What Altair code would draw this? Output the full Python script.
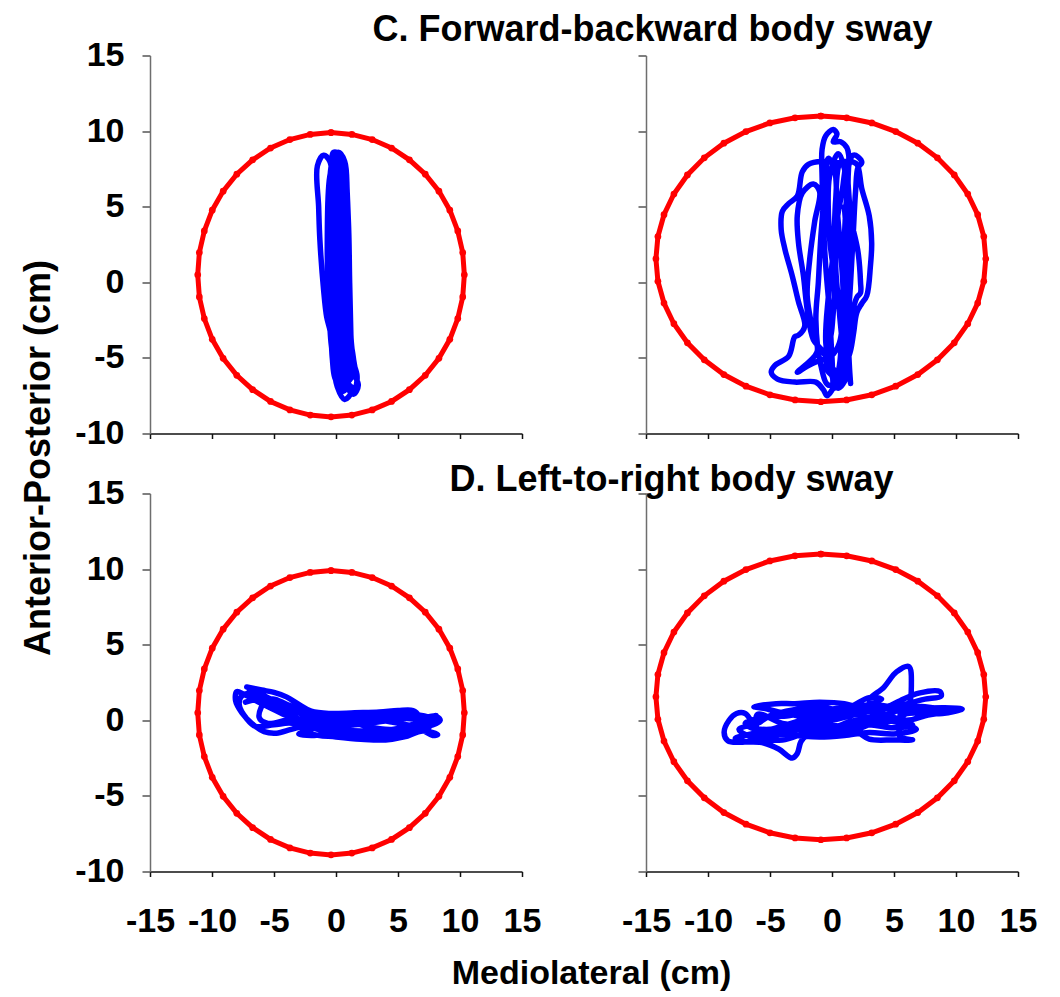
import altair as alt
import pandas as pd

FONT = "Liberation Sans"

x_ticks = [-15, -10, -5, 0, 5, 10, 15]
y_ticks = [-10, -5, 0, 5, 10, 15]

title_c = "C. Forward-backward body sway"
title_d = "D. Left-to-right body sway"
x_title = "Mediolateral (cm)"
y_title = "Anterior-Posterior (cm)"

# confidence ellipse, left column
ellipse_left = [
    (-0.40, 9.90), (1.28, 9.78), (2.92, 9.44), (4.48, 8.88), (5.92, 8.10), (7.20, 7.15),
    (8.30, 6.03), (9.18, 4.77), (9.82, 3.40), (10.22, 1.97), (10.35, 0.50),
    (10.22, -0.97), (9.82, -2.40), (9.18, -3.77), (8.30, -5.03), (7.20, -6.15),
    (5.92, -7.10), (4.48, -7.88), (2.92, -8.44), (1.28, -8.78), (-0.40, -8.90),
    (-2.08, -8.78), (-3.72, -8.44), (-5.28, -7.88), (-6.72, -7.10), (-8.00, -6.15),
    (-9.10, -5.03), (-9.98, -3.77), (-10.62, -2.40), (-11.02, -0.97), (-11.15, 0.50),
    (-11.02, 1.97), (-10.62, 3.40), (-9.98, 4.77), (-9.10, 6.03), (-8.00, 7.15),
    (-6.72, 8.10), (-5.28, 8.88), (-3.72, 9.44), (-2.08, 9.78), (-0.40, 9.90),
]

# confidence ellipse, right column
ellipse_right = [
    (-0.90, 11.00), (1.18, 10.88), (3.21, 10.54), (5.14, 9.97), (6.92, 9.20), (8.50, 8.23),
    (9.86, 7.10), (10.95, 5.84), (11.75, 4.47), (12.24, 3.03), (12.40, 1.55),
    (12.24, 0.07), (11.75, -1.37), (10.95, -2.74), (9.86, -4.00), (8.50, -5.13),
    (6.92, -6.10), (5.14, -6.87), (3.21, -7.44), (1.18, -7.78), (-0.90, -7.90),
    (-2.98, -7.78), (-5.01, -7.44), (-6.94, -6.87), (-8.72, -6.10), (-10.30, -5.13),
    (-11.66, -4.00), (-12.75, -2.74), (-13.55, -1.37), (-14.04, 0.07), (-14.20, 1.55),
    (-14.04, 3.03), (-13.55, 4.47), (-12.75, 5.84), (-11.66, 7.10), (-10.30, 8.23),
    (-8.72, 9.20), (-6.94, 9.97), (-5.01, 10.54), (-2.98, 10.88), (-0.90, 11.00),
]

# C, left: sway path
trace_c_left = [
    (0.2, 8.0), (0.1, 4.0), (0.2, 0.0), (0.3, -4.0), (0.8, -6.5), (1.2, -7.3), (0.7, -7.75),
    (0.1, -6.9), (-0.3, -4.5), (-0.5, -1.0), (-0.4, 3.0), (-0.3, 7.0), (-0.2, 8.6), (0.4, 8.4),
    (0.7, 5.0), (0.9, 1.0), (0.8, -3.0), (1.1, -5.5), (1.8, -6.8), (1.4, -7.4), (0.5, -6.2),
    (0.2, -3.0), (0.0, 1.0), (-0.2, 5.0), (-0.5, 8.0), (-1.0, 8.4), (-1.5, 7.7), (-1.4, 5.0),
    (-1.3, 2.8), (-1.0, -0.5), (-0.75, -2.3), (-0.45, -3.3), (-0.3, -5.0), (-0.1, -6.3),
    (0.4, -7.0), (1.0, -6.0), (0.9, -2.0), (1.0, 2.0), (0.9, 6.0), (0.7, 8.0), (0.2, 8.6),
    (-0.3, 8.0), (-0.6, 4.0), (-0.6, 0.0), (-0.4, -4.0), (0.0, -6.0), (0.5, -6.8), (1.3, -6.2),
    (1.2, -3.5), (1.1, 0.0), (1.0, 4.0), (0.7, 7.5), (0.3, 8.3), (0.0, 6.0), (0.1, 2.0),
    (0.3, -2.0), (0.5, -5.0), (0.9, -7.0), (1.6, -6.9), (1.4, -5.0), (0.6, -1.0), (0.5, 3.0),
    (0.4, 7.0), (0.1, 7.9), (-0.2, 6.0), (-0.3, 2.0), (-0.1, -2.0), (0.3, -5.5), (0.7, -6.0),
    (0.6, -3.0), (0.4, 1.0), (0.3, 5.0), (0.2, 7.5), (0.0, 8.2), (-0.4, 5.5), (-0.5, 2.0),
    (-0.3, -2.0), (0.1, -5.5), (0.6, -7.2), (1.0, -6.6), (0.8, -4.5), (0.6, -1.0), (0.7, 2.5),
    (0.6, 6.0), (0.4, 8.2), (0.0, 7.0), (-0.1, 3.5), (0.0, -0.5), (0.2, -4.0), (0.6, -6.3),
    (1.5, -7.0), (1.7, -6.2), (1.2, -4.8), (0.9, -2.5), (0.8, 0.5), (0.7, 4.0), (0.5, 7.0),
    (0.0, 8.4), (-0.5, 7.0), (-0.7, 3.0), (-0.6, -1.0), (-0.3, -3.5), (0.0, -5.5), (0.3, -6.5),
    (0.8, -5.8), (0.5, -3.0), (0.3, 0.0), (0.2, 3.5), (0.1, 6.5), (0.3, 8.0),
]

# C, right: sway path
trace_c_right = [
    (1.5, -6.7), (1.4, -5.5), (1.3, -3.0), (1.5, 0.0), (1.7, 3.0), (1.9, 6.0), (2.1, 7.6),
    (2.4, 7.9), (2.1, 8.3), (1.7, 8.4), (1.4, 7.9), (1.2, 6.0), (1.0, 3.0), (0.9, 0.0),
    (0.8, -3.0), (0.6, -5.5), (0.2, -6.8), (-0.4, -7.5), (-0.7, -7.1), (-1.3, -6.6),
    (-3.0, -6.6), (-4.4, -6.4), (-4.9, -5.95), (-4.6, -5.5), (-3.5, -4.9), (-3.0, -3.6),
    (-2.7, -3.5), (-2.2, -2.9), (-2.7, -1.3), (-3.2, 0.4), (-3.8, 2.2), (-4.1, 3.5),
    (-4.0, 4.7), (-3.5, 5.2), (-2.8, 5.7), (-2.4, 7.3), (-1.9, 7.8), (-0.8, 8.0), (0.5, 7.9),
    (1.4, 8.0), (2.0, 7.8), (2.4, 6.2), (3.0, 4.4), (3.2, 2.6), (3.1, 1.1), (2.8, -0.9),
    (2.4, -1.4), (2.0, -2.0), (1.75, -3.3), (1.5, -4.5), (1.1, -5.5), (0.7, -6.3), (0.2, -7.0),
    (0.0, -5.0), (-0.2, -2.0), (-0.5, 1.0), (-0.7, 4.0), (-0.8, 7.0), (-0.8, 8.8), (-0.5, 9.7),
    (0.1, 10.1), (0.4, 9.8), (0.1, 9.3), (0.7, 9.3), (1.2, 8.9), (1.35, 8.4), (1.3, 6.5),
    (1.6, 4.0), (2.1, 2.0), (2.3, 0.0), (2.3, -0.7), (2.0, -1.0), (1.5, -2.5), (1.0, -4.5),
    (0.5, -6.0), (-0.1, -5.5), (-0.8, -4.5), (-1.5, -3.8), (-2.0, -1.8), (-2.3, 0.4),
    (-2.7, 2.6), (-2.8, 4.4), (-2.4, 5.9), (-1.5, 6.5), (-1.0, 6.0), (-1.4, 4.0), (-1.8, 1.5),
    (-2.0, -0.9), (-1.6, -3.0), (-1.2, -4.6), (-2.8, -5.95), (-1.9, -5.5), (-1.1, -5.2),
    (-0.1, -4.9), (0.6, -4.0), (0.9, -1.0), (0.7, 2.0), (0.4, 5.0), (0.2, 7.5), (-0.3, 8.2),
    (-0.6, 6.0), (-0.9, 3.0), (-1.1, 0.0), (-1.3, -2.5), (-0.9, -5.5), (-0.3, -6.8),
    (0.5, -6.5), (0.9, -6.4), (1.1, -4.0), (1.3, -1.0), (1.5, 2.0), (1.4, 5.0), (1.0, 7.5),
    (0.5, 8.5), (-0.2, 7.0), (-0.2, 3.0), (0.2, 0.0), (0.0, -3.0), (-0.4, -5.8), (0.3, -6.2),
    (0.8, -5.0), (0.6, -2.0), (0.3, 1.0), (0.4, 4.0), (0.9, 6.5), (1.0, 8.0), (0.6, 7.8),
    (0.3, 5.5), (0.1, 2.0), (-0.3, -1.0), (-0.5, -4.0), (0.0, -6.2), (0.5, -7.0), (1.2, -6.2),
    (1.3, -4.0), (1.0, -1.5), (1.2, 2.0), (1.0, 5.0),
]

# D, left: sway path
trace_d_left = [
    (-7.2, 2.2), (-6.0, 2.0), (-5.0, 1.85), (-4.0, 1.55), (-3.0, 1.05), (-2.0, 0.6),
    (-0.5, 0.45), (1.5, 0.5), (3.5, 0.55), (5.0, 0.65), (6.2, 0.65), (6.6, 0.35), (5.5, 0.1),
    (3.5, -0.1), (1.5, -0.3), (-0.5, -0.4), (-2.5, -0.2), (-4.5, 0.5), (-6.0, 1.1),
    (-7.4, 1.7), (-8.0, 1.9), (-8.1, 1.3), (-7.6, 0.5), (-6.8, -0.2), (-5.8, -0.75),
    (-4.8, -0.85), (-3.6, -0.6), (-2.5, -0.4), (-1.0, -0.7), (1.0, -1.0), (3.0, -1.1),
    (5.0, -1.0), (6.5, -0.6), (7.5, -0.3), (8.2, 0.2), (8.4, 0.0), (7.8, -0.3), (6.8, -0.4),
    (5.0, -0.2), (3.0, 0.1), (1.0, 0.3), (-1.0, 0.2), (-3.0, 0.5), (-5.0, 1.3), (-6.5, 1.8),
    (-7.6, 1.6), (-7.8, 1.0), (-7.2, 0.1), (-6.5, -0.4), (-5.0, -0.3), (-3.5, -0.2),
    (-2.0, -0.9), (0.0, -1.1), (2.0, -1.25), (4.0, -1.3), (5.5, -1.1), (7.0, -0.7),
    (8.2, -0.95), (7.8, -1.0), (6.8, -0.6), (5.5, -0.5), (4.0, -0.7), (2.0, -0.7), (0.0, -0.6),
    (-2.0, -0.3), (-3.5, 0.3), (-5.0, 0.9), (-6.5, 1.5), (-7.0, 2.0), (-6.0, 1.6), (-4.5, 1.2),
    (-3.0, 0.6), (-1.5, 0.0), (0.5, -0.2), (2.5, 0.2), (4.5, 0.3), (6.0, 0.1), (7.5, 0.0),
    (8.1, 0.3), (7.0, 0.2), (5.0, 0.4), (3.0, 0.3), (1.0, -0.1), (-1.0, -0.2), (-2.5, 0.1),
    (-4.0, 0.0), (-5.5, -0.2), (-6.2, 0.2), (-5.5, 1.4), (-3.5, 0.9), (-1.5, 0.3), (0.5, 0.1),
    (2.5, -0.4), (4.5, -0.6), (6.5, -0.2), (7.8, 0.1), (6.0, 0.4), (4.0, 0.0), (2.0, -0.2),
    (0.0, 0.0), (-2.0, -0.6), (-3.0, -0.9), (-2.0, -1.0), (0.0, -0.9), (2.0, -1.0),
    (4.5, -0.9), (6.0, -0.8), (7.5, -0.5), (6.0, 0.3), (4.0, 0.5), (2.0, 0.4), (0.0, 0.4),
    (-2.0, 0.2), (-4.0, 0.9), (-6.0, 1.4), (-7.3, 1.2),
]

# D, right: sway path
trace_d_right = [
    (-6.5, -0.1), (-7.0, 0.45), (-7.7, 0.45), (-8.3, 0.0), (-8.7, -0.8), (-8.4, -1.35),
    (-7.5, -1.45), (-6.0, -1.3), (-4.5, -1.0), (-3.0, -0.6), (-1.0, -0.2), (1.0, 0.2),
    (2.8, 0.6), (4.5, 0.9), (5.5, 1.3), (7.0, 1.8), (8.7, 1.9), (8.8, 1.6), (7.5, 1.4),
    (6.5, 1.2), (5.0, 0.9), (3.0, 1.3), (4.2, 2.2), (5.2, 3.2), (6.2, 3.55), (6.4, 2.3),
    (6.2, 1.0), (5.5, 0.4), (7.0, 0.75), (10.5, 0.75), (8.9, 0.45), (7.0, 0.5), (5.5, 0.3),
    (5.4, -0.55), (5.5, -1.1), (6.5, -1.3), (5.0, -1.3), (3.0, -1.25), (2.3, -0.9),
    (1.5, -0.5), (-0.5, -0.7), (-2.0, -1.0), (-2.5, -1.4), (-2.8, -2.2), (-3.2, -2.5),
    (-4.3, -1.9), (-5.5, -1.5), (-7.0, -1.4), (-7.8, -1.2), (-6.5, -0.9), (-4.5, -0.5),
    (-2.5, 0.0), (-0.5, 0.5), (1.5, 0.9), (3.0, 1.5), (4.0, 1.4), (2.0, 0.8), (0.0, 0.3),
    (-2.0, 0.2), (-4.0, 0.5), (-5.5, 0.8), (-6.3, 0.9), (-4.5, 1.1), (-3.0, 1.1), (-1.0, 1.2),
    (1.0, 1.1), (3.0, 0.6), (5.0, 0.1), (6.5, -0.3), (5.0, -0.5), (3.0, -0.3), (1.0, -0.4),
    (-1.0, -0.3), (-3.0, -0.4), (-5.0, -0.6), (-6.5, -0.5), (-7.0, -0.2), (-5.5, 0.2),
    (-3.5, 0.3), (-1.5, 0.6), (0.5, 0.8), (2.5, 1.0), (4.0, 0.5), (6.0, 0.0), (7.5, 0.3),
    (9.0, 0.6), (7.5, 0.9), (5.5, 0.7), (4.0, 0.1), (2.0, -0.6), (0.0, -0.9), (-2.0, -0.5),
    (-4.0, -0.9), (-6.0, -0.6), (-6.0, 0.4), (-4.0, -0.2), (-2.0, -0.3), (0.0, 0.0),
    (2.0, 0.5), (4.0, 0.8), (6.0, 0.5), (4.0, -0.2), (2.0, 0.0), (0.0, -0.5), (-2.0, -0.8),
    (-4.0, -1.3), (-6.5, -1.1), (-7.5, -0.6), (-6.0, -0.2), (-5.0, 0.3), (-3.0, 0.7),
    (-1.0, 0.9), (1.0, 0.6), (3.0, 0.9), (5.0, 0.6), (3.5, 0.2), (1.5, 0.4), (-0.5, 0.2),
    (-2.5, -0.2), (-4.5, -0.7), (-6.0, -0.9), (-5.0, -0.9), (-3.0, -1.0), (-1.0, -1.1),
    (1.0, -1.0), (3.0, -0.8), (5.0, -0.9), (6.8, -0.6), (5.5, -0.2), (3.5, 0.2),
]

W, H = 372, 378


def frame(points):
    return pd.DataFrame({
        "x": [p[0] for p in points],
        "y": [p[1] for p in points],
        "i": list(range(len(points))),
    })


def panel(trace, ellipse, x_labels, y_labels, x_axis_title=False, y_axis_title=False,
          heading=None, heading_pos=(0, 0)):
    x_axis = alt.Axis(
        values=x_ticks, labels=x_labels, grid=False, ticks=True, tickSize=5,
        tickColor="#111111", tickWidth=1.5, domainColor="#111111", domainWidth=1.5,
        labelFont=FONT, labelFontSize=34, labelFontWeight="bold", labelColor="#000000",
        labelPadding=28, labelFlush=False, labelOverlap=False,
        labelExpr="toString(datum.value)",
        title=x_title if x_axis_title else None,
        **({"titleFont": FONT, "titleFontSize": 34, "titleFontWeight": "bold",
            "titleColor": "#000000", "titleX": 441, "titleY": 112,
            "titleAlign": "center", "titleBaseline": "alphabetic"} if x_axis_title else {}),
    )
    y_axis = alt.Axis(
        values=y_ticks, labels=y_labels, grid=False, ticks=True, tickSize=8,
        tickColor="#555555", tickWidth=1.5, domainColor="#6e6e6e", domainWidth=1.5,
        labelFont=FONT, labelFontSize=34, labelFontWeight="bold", labelColor="#000000",
        labelPadding=18, labelFlush=False, labelOverlap=False,
        labelExpr="toString(datum.value)",
        title=y_title if y_axis_title else None,
        **({"titleFont": FONT, "titleFontSize": 36, "titleFontWeight": "bold",
            "titleColor": "#000000", "titleX": -101, "titleY": 402, "titleAngle": 270,
            "titleAlign": "center", "titleBaseline": "alphabetic"} if y_axis_title else {}),
    )
    xs = alt.X("x:Q", scale=alt.Scale(domain=[-15, 15], nice=False, zero=False), axis=x_axis)
    ys = alt.Y("y:Q", scale=alt.Scale(domain=[-10, 15], nice=False, zero=False), axis=y_axis)

    ell = alt.Chart(frame(ellipse)).mark_line(
        color="#ff0000", strokeWidth=5,
        point=alt.OverlayMarkDef(color="#ff0000", filled=True, size=45),
    ).encode(x=xs, y=ys, order="i:Q")

    path = alt.Chart(frame(trace)).mark_line(
        color="#0000ff", strokeWidth=5.5, interpolate="catmull-rom", strokeJoin="round",
        strokeCap="round",
    ).encode(x=xs, y=ys, order="i:Q")

    layers = [ell, path]
    if heading:
        txt = alt.Chart(pd.DataFrame({"t": [heading]})).mark_text(
            font=FONT, fontSize=36, fontWeight="bold", color="#000000",
            align="center", baseline="alphabetic",
        ).encode(text="t:N", x=alt.value(heading_pos[0]), y=alt.value(heading_pos[1]))
        layers.append(txt)
    return alt.layer(*layers).properties(width=W, height=H)


tl = panel(trace_c_left, ellipse_left, False, True, y_axis_title=True,
           heading=title_c, heading_pos=(502.5, -14.5))
tr = panel(trace_c_right, ellipse_right, False, False)
bl = panel(trace_d_left, ellipse_left, True, True, x_axis_title=True,
           heading=title_d, heading_pos=(521.5, -3))
br = panel(trace_d_right, ellipse_right, True, False)

chart = alt.concat(
    tl, tr, bl, br, columns=2, spacing={"row": 60, "column": 124}, bounds="flush"
).properties(
    padding={"left": 12, "top": 3.5, "right": 5, "bottom": 0},
    background="#ffffff",
).configure_view(stroke=None)

chart.save("out.html", embed_options={"renderer": "svg", "actions": False})
